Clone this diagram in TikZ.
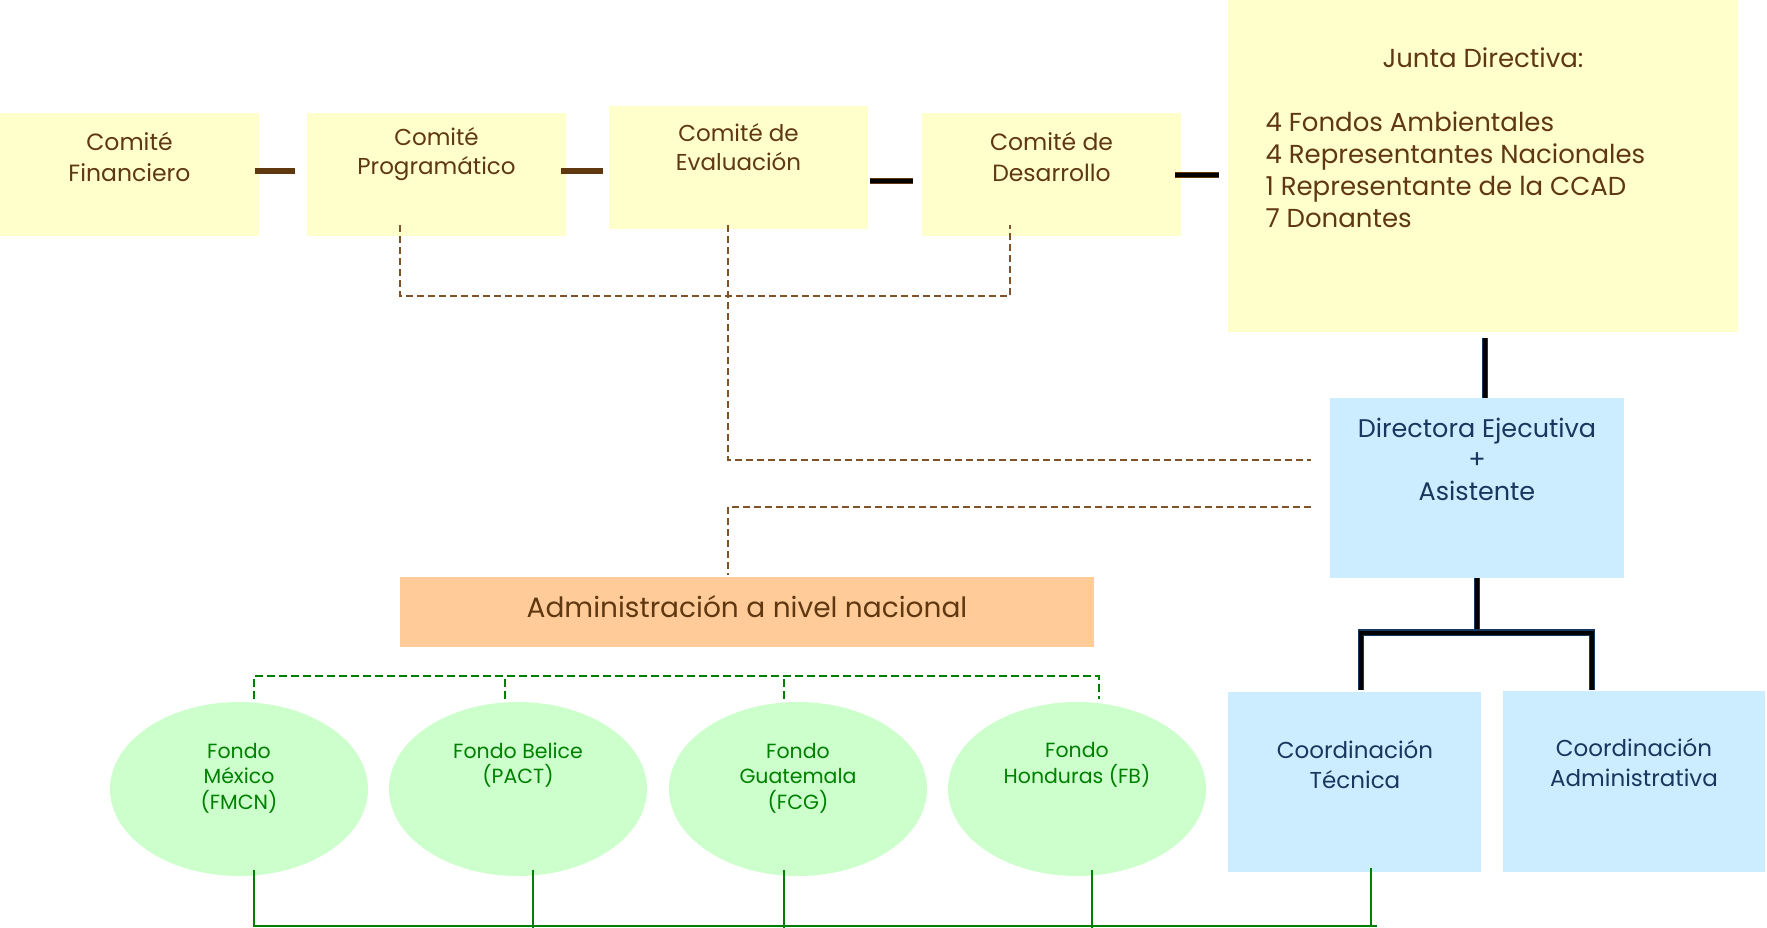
\documentclass[tikz,border=0pt]{standalone}
\usepackage{fontspec}
\setmainfont{Poppins}
\usetikzlibrary{calc,shapes.geometric}
\definecolor{boxyellow}{RGB}{255,255,204}
\definecolor{boxblue}{RGB}{204,236,255}
\definecolor{boxorange}{RGB}{255,204,153}
\definecolor{boxgreen}{RGB}{204,255,204}
\definecolor{txtbrown}{RGB}{96,56,16}
\definecolor{dashbrown}{RGB}{128,82,40}
\definecolor{txtnavy}{RGB}{23,55,94}
\definecolor{txtgreen}{RGB}{0,128,0}
\begin{document}
\begin{tikzpicture}
[x=1pt,y=-1pt,
  boxdecorate/.style={shape=rectangle,inner sep=0pt,draw=none},%
  ovaldecorate/.style={shape=ellipse,inner sep=0pt,fill=boxgreen,
    minimum width=258pt,minimum height=174pt},%
  browntext/.style={align=center,text=txtbrown,font=\fontsize{23.5}{31}\selectfont},%
  navytext/.style={align=center,text=txtnavy,font=\fontsize{25.5}{31.5}\selectfont},%
  greentext/.style={align=center,text=txtgreen,font=\fontsize{20.5}{25.5}\selectfont},%
  brownbar/.style={-,line width=6pt,draw=txtbrown},%
  blackbar/.style={-,line width=1pt,draw=txtbrown,double=black,double distance=4.5pt},%
  navybar/.style={-,line width=1.2pt,draw=txtnavy,double=black,double distance=4.5pt},%
  browndash/.style={-,line width=1.6pt,draw=dashbrown,dash pattern=on 7pt off 4pt},%
  greendash/.style={-,line width=1.8pt,draw=txtgreen,dash pattern=on 8pt off 4pt},%
  greenline/.style={-,line width=1.8pt,draw=txtgreen}]
\useasboundingbox (0,0) rectangle (1767,927);
%% boxes
\foreach \nodename/\x/\y/\w/\h/\c in {
  %% committees
  fin/129.5/174.5/259/123/boxyellow, prog/436.5/174.5/259/123/boxyellow,
  eval/738.5/167.5/259/123/boxyellow, des/1051.5/174.5/259/123/boxyellow,
  %% board
  junta/1483/166/510/332/boxyellow,
  %% executive
  dir/1477/488/294/180/boxblue,
  ctec/1354.5/782/253/180/boxblue, cadm/1634/781.5/262/181/boxblue,
  %% national level
  adm/747/612/694/70/boxorange} {
  \node (\nodename) at (\x,\y) [boxdecorate,fill=\c,minimum width=\w pt,minimum height=\h pt] {};
}
%% funds
\foreach \nodename/\x in {fm/239, fb/518, fg/798, fh/1077} {
  \node (\nodename) at (\x,789) [ovaldecorate] {};
}
%% texts
\node (fin-t) at (129.5,157) [browntext] {Comité\\Financiero};
\node (prog-t) at (436.5,154) [browntext,font=\fontsize{23}{29}\selectfont] {Comité\\Programático};
\node (eval-t) at (738.5,147) [browntext,font=\fontsize{23}{29}\selectfont] {Comité de\\Evaluación};
\node (des-t) at (1051.5,157) [browntext] {Comité de\\Desarrollo};
\node (junta-t) at (1483,58) [browntext,font=\fontsize{26}{32}\selectfont] {Junta Directiva:};
\node (junta-l) at (1262,170) [browntext,align=left,anchor=west,font=\fontsize{26}{32}\selectfont]
  {4 Fondos Ambientales\\4 Representantes Nacionales\\1 Representante de la CCAD\\7 Donantes};
\node (dir-t) at (1477,459) [navytext] {Directora Ejecutiva\\+\\Asistente};
\node (ctec-t) at (1355,765) [navytext,font=\fontsize{23}{30}\selectfont] {Coordinación\\Técnica};
\node (cadm-t) at (1634,763) [navytext,font=\fontsize{23}{30}\selectfont] {Coordinación\\Administrativa};
\node (adm-t) at (747,607) [browntext,font=\fontsize{28}{32}\selectfont] {Administración a nivel nacional};
\node (fm-t) at (239,778) [greentext] {Fondo\\México\\(FMCN)};
\node (fb-t) at (518,765) [greentext] {Fondo Belice\\(PACT)};
\node (fg-t) at (798,778) [greentext] {Fondo\\Guatemala\\(FCG)};
\node (fh-t) at (1077,765) [greentext] {Fondo\\Honduras (FB)};
%% committee links
\draw[brownbar] ($(fin.east)+(-4,-3.5)$) -- ($(prog.west)+(-12,-3.5)$);
\draw[brownbar] ($(prog.east)+(-5,-3.5)$) -- ($(eval.west)+(-6,3.5)$);
\draw[blackbar] ($(eval.east)+(2,13.5)$) -- ($(des.west)+(-9,6.5)$);
\draw[blackbar] ($(des.east)+(-6,0.5)$) -- ($(junta.west)+(-9,9)$);
%% dashed links to the executive
\draw[browndash] ($(prog.south)+(-36.5,-11)$) |- ($(des.south)+(-41.5,60)$) -- ($(des.south)+(-41.5,-11)$);
\draw[browndash] ($(eval.south)+(-10.5,-4)$) |- ($(dir.west)+(-19,-28)$);
\draw[browndash] ($(dir.west)+(-19,19)$) -| ($(adm.north)+(-19,-2)$);
%% executive links
\draw[navybar] ($(junta.south)+(2,6)$) -- ($(dir.north)+(8,0)$);
\draw[navybar] (dir.south) -- ($(dir.south)+(0,55)$);
\draw[navybar] ($(ctec.north)+(6.5,-2)$) |- ($(cadm.north)+(-42,-58)$) -- ($(cadm.north)+(-42,-1)$);
%% funds links
\draw[greendash] ($(fm.north)+(15,-3)$) |- ($(fh.north)+(22,-26)$) -- ($(fh.north)+(22,-3)$);
\foreach \nodename/\dx in {fb/-13, fg/-14} {
  \draw[greendash] ($(\nodename.north)+(\dx,-3)$) -- ++(0,-23);
}
\draw[greenline] ($(fm.south)+(15,-6)$) |- ($(ctec.south)+(22,54)$);
\foreach \nodename/\dx/\dy in {fb/15/-6, fg/-14/-6, fh/15/-6, ctec/16.5/-4} {
  \draw[greenline] ($(\nodename.south)+(\dx,\dy)$) -- ($(\nodename.south)+(\dx,54)$);
}
\end{tikzpicture}
\end{document}
